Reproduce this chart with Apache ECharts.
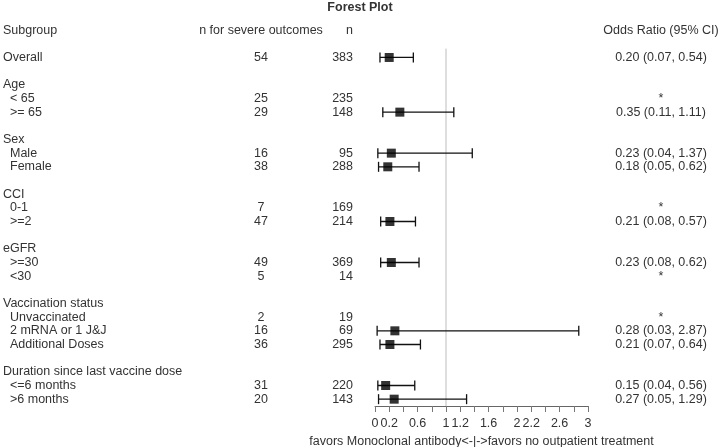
<!DOCTYPE html>
<html>
  <head>
    <meta charset="utf-8">
    <script src="https://cdn.jsdelivr.net/npm/echarts@6/dist/echarts.min.js"></script>
    <style>
      html, body { margin: 0; padding: 0; background: #fff; }
    </style>
  </head>
  <body>
    <div class="chart" style="width:720px;height:447px;"></div>
    <script>
      // one entry per text row, top to bottom (header, blank, Overall, ...)
      var subgroups = ['Subgroup', '', 'Overall', '', 'Age', '< 65', '>= 65', '',
        'Sex', 'Male', 'Female', '', 'CCI', '0-1', '>=2', '',
        'eGFR', '>=30', '<30', '', 'Vaccination status', 'Unvaccinated', '2 mRNA or 1 J&J', 'Additional Doses', '',
        'Duration since last vaccine dose', '<=6 months', '>6 months'];
      var indented = [0, 0, 0, 0, 0, 1, 1, 0, 0, 1, 1, 0, 0, 1, 1, 0, 0, 1, 1, 0, 0, 1, 1, 1, 0, 0, 1, 1];
      var nSevere = ['n for severe outcomes', '', 54, '', '', 25, 29, '', '', 16, 38, '', '', 7, 47, '',
        '', 49, 5, '', '', 2, 16, 36, '', '', 31, 20];
      var nTotal = ['n', '', 383, '', '', 235, 148, '', '', 95, 288, '', '', 169, 214, '',
        '', 369, 14, '', '', 19, 69, 295, '', '', 220, 143];
      var oddsRatio = [null, null, 0.20, null, null, null, 0.35, null, null, 0.23, 0.18, null, null, null, 0.21, null,
        null, 0.23, null, null, null, null, 0.28, 0.21, null, null, 0.15, 0.27];
      var ciLow = [null, null, 0.07, null, null, null, 0.11, null, null, 0.04, 0.05, null, null, null, 0.08, null,
        null, 0.08, null, null, null, null, 0.03, 0.07, null, null, 0.04, 0.05];
      var ciHigh = [null, null, 0.54, null, null, null, 1.11, null, null, 1.37, 0.62, null, null, null, 0.57, null,
        null, 0.62, null, null, null, null, 2.87, 0.64, null, null, 0.56, 1.29];
      // x ticks every 0.2, only these get a label
      var tickLabels = [0, 0.2, 0.6, 1, 1.2, 1.6, 2, 2.2, 2.6, 3];

      var rows = subgroups.map(function (s, i) { return String(i); });

      function orText(i) {
        if (i === 0) return 'Odds Ratio (95% CI)';
        if (oddsRatio[i] != null) {
          return oddsRatio[i].toFixed(2) + ' (' + ciLow[i].toFixed(2) + ', ' + ciHigh[i].toFixed(2) + ')';
        }
        if (nSevere[i] !== '') return '*';
        return '';
      }

      var squares = [], bars = [];
      oddsRatio.forEach(function (v, i) {
        if (v == null) return;
        squares.push([v, i]);
        bars.push([ciLow[i], ciHigh[i], i]);
      });

      var txt = '#333';
      var fs = 12.5;
      var font = 'Liberation Sans, Arial, sans-serif';

      function textAxis(pos, offset, align, formatter, rich) {
        return {
          type: 'category', data: rows, inverse: true, position: pos, offset: offset,
          axisLine: { show: false }, axisTick: { show: false }, splitLine: { show: false },
          axisLabel: {
            interval: 0, margin: 0, align: align, color: txt, fontSize: fs, fontFamily: font,
            formatter: formatter, rich: rich
          }
        };
      }

      var chart = echarts.init(document.getElementsByClassName('chart')[0], null, { renderer: 'canvas' });
      chart.setOption({
        animation: false,
        title: {
          text: 'Forest Plot', left: 'center', top: 1, padding: 0,
          textStyle: { fontSize: fs, fontWeight: 'bold', color: txt, fontFamily: font }
        },
        grid: { left: 375, right: 132, top: 23.3, bottom: 41, outerBoundsMode: 'none' },
        xAxis: {
          type: 'value', min: 0, max: 3, interval: 0.2,
          splitLine: { show: false },
          axisLine: { show: true, onZero: false, lineStyle: { color: '#666', width: 1 } },
          axisTick: { show: true, length: 6, lineStyle: { color: '#777' } },
          axisLabel: {
            margin: 11, color: txt, fontSize: fs, fontFamily: font,
            formatter: function (v) {
              for (var k = 0; k < tickLabels.length; k++) {
                if (Math.abs(v - tickLabels[k]) < 1e-6) return String(tickLabels[k]);
              }
              return '';
            }
          },
          name: 'favors Monoclonal antibody<-|->favors no outpatient treatment',
          nameLocation: 'middle', nameGap: 29,
          nameTextStyle: { color: txt, fontSize: fs, fontFamily: font }
        },
        yAxis: [
          textAxis('left', 372, 'left', function (v) {
            var i = +v;
            return subgroups[i] ? (indented[i] ? '{i|' : '{h|') + subgroups[i] + '}' : '';
          }, {
            h: { color: txt, fontSize: fs, fontFamily: font },
            i: { color: txt, fontSize: fs, fontFamily: font, padding: [0, 0, 0, 7] }
          }),
          textAxis('left', 114, 'center', function (v) { return String(nSevere[+v]); }),
          textAxis('left', 22, 'right', function (v) { return String(nTotal[+v]); }),
          textAxis('right', 73, 'center', function (v) { return orText(+v); })
        ],
        series: [
          {
            type: 'custom', z: 1, silent: true,
            data: [[1]],
            renderItem: function (params, api) {
              var band = api.size([0, 1])[1];
              var p = api.coord([1, 2]);
              var bottom = params.coordSys.y + params.coordSys.height;
              return {
                type: 'line',
                shape: { x1: p[0], y1: p[1] - band * 0.65, x2: p[0], y2: bottom },
                style: { stroke: '#bdbdbd', lineWidth: 1 }
              };
            }
          },
          {
            type: 'custom', z: 2, silent: true,
            data: bars,
            renderItem: function (params, api) {
              var a = api.coord([api.value(0), api.value(2)]);
              var b = api.coord([api.value(1), api.value(2)]);
              var c = 5;
              var st = { stroke: '#111', lineWidth: 1.3 };
              return {
                type: 'group',
                children: [
                  { type: 'line', shape: { x1: a[0], y1: a[1], x2: b[0], y2: b[1] }, style: st },
                  { type: 'line', shape: { x1: a[0], y1: a[1] - c, x2: a[0], y2: a[1] + c }, style: st },
                  { type: 'line', shape: { x1: b[0], y1: b[1] - c, x2: b[0], y2: b[1] + c }, style: st }
                ]
              };
            }
          },
          {
            type: 'scatter', z: 3, silent: true,
            symbol: 'rect', symbolSize: 9,
            itemStyle: { color: '#000' },
            data: squares
          }
        ]
      });
    </script>
  </body>
</html>
